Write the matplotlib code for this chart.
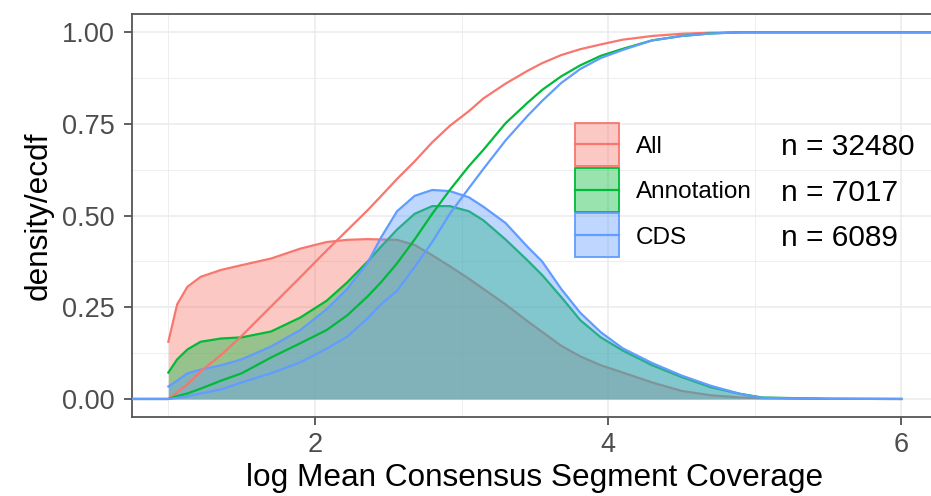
import matplotlib
matplotlib.use("Agg")
import matplotlib.pyplot as plt
from matplotlib.patches import Rectangle
import numpy as np

plt.rcParams["font.family"] = ["Liberation Sans", "DejaVu Sans"]

# log mean consensus segment coverage (x grid)
x = [1.00, 1.06, 1.13, 1.22, 1.36, 1.50, 1.70, 1.90, 2.08, 2.22, 2.36, 2.45,
     2.56, 2.68, 2.80, 2.92, 3.05, 3.15, 3.30, 3.45, 3.55, 3.68, 3.81, 3.95,
     4.10, 4.30, 4.50, 4.70, 4.90, 5.05, 5.50, 6.00]

dens_all = [.156, .258, .306, .333, .352, .365, .383, .410, .428, .434, .436, .435,
            .434, .420, .392, .362, .328, .300, .258, .212, .183, .145, .116, .092,
            .072, .045, .022, .010, .004, .002, .0005, 0]
dens_annotation = [.072, .108, .135, .156, .165, .168, .184, .222, .268, .318, .375, .415,
                   .462, .505, .526, .526, .512, .487, .435, .378, .338, .278, .215, .168,
                   .132, .092, .060, .032, .014, .004, .0005, 0]
dens_cds = [.034, .050, .070, .080, .092, .108, .143, .188, .245, .300, .372, .440,
            .512, .554, .570, .567, .550, .524, .480, .415, .375, .300, .235, .182,
            .138, .098, .064, .036, .014, .003, .0005, 0]

ecdf_all = [0, .018, .040, .075, .120, .172, .252, .332, .405, .460, .515, .553,
            .600, .648, .700, .745, .785, .820, .860, .895, .916, .938, .954, .967,
            .980, .990, .996, .999, 1, 1, 1, 1]
ecdf_annotation = [0, .008, .015, .028, .050, .070, .113, .152, .188, .228, .280, .318,
                   .370, .435, .505, .570, .635, .680, .752, .808, .843, .880, .910, .936,
                   .955, .978, .990, .997, 1, 1, 1, 1]
ecdf_cds = [0, .003, .007, .015, .026, .045, .070, .100, .137, .170, .220, .258,
            .295, .360, .428, .505, .575, .628, .705, .772, .813, .862, .900, .930,
            .952, .978, .990, .997, 1, 1, 1, 1]

groups = ["All", "Annotation", "CDS"]
counts = [32480, 7017, 6089]
colors = ["#F8766D", "#00BA38", "#619CFF"]

densities = [dens_all, dens_annotation, dens_cds]
ecdfs = [ecdf_all, ecdf_annotation, ecdf_cds]

W, H = 931, 496
fig = plt.figure(figsize=(W / 100, H / 100), dpi=100)
ax = fig.add_axes([131.7 / W, 1 - 417.3 / H, (938 - 131.7) / W, (417.3 - 14) / H])

xlim = (0.75, 6.25)
ax.set_xlim(*xlim)
ax.set_ylim(-0.05, 1.05)

# theme_bw-ish
ax.set_xticks([2, 4, 6])
ax.set_xticks([1, 3, 5], minor=True)
ax.set_yticks([0, 0.25, 0.5, 0.75, 1.0])
ax.set_yticks([0.125, 0.375, 0.625, 0.875], minor=True)
ax.set_yticklabels([f"{v:.2f}" for v in [0, 0.25, 0.5, 0.75, 1.0]])
ax.grid(which="major", color="#EBEBEB", lw=1.1)
ax.grid(which="minor", color="#EBEBEB", lw=0.6)
ax.set_axisbelow(True)
for s in ax.spines.values():
    s.set_color("#555555")
    s.set_linewidth(1.3)
ax.tick_params(which="major", length=5.5, width=1.2, color="#444444",
               labelsize=19.5, labelcolor="#4D4D4D")
ax.tick_params(axis="y", pad=7)
ax.tick_params(axis="x", pad=5)
ax.tick_params(which="minor", length=0)

lw = 1.6
xs = np.array(x)
for i, (dens, col) in enumerate(zip(densities, colors)):
    ax.fill_between(xs, 0, dens, color=col, alpha=0.4, lw=0, zorder=2 + 2 * i)
    ax.plot(xs, dens, color=col, lw=lw, zorder=3 + 2 * i, solid_joinstyle="round")

for i, (ec, col) in enumerate(zip(ecdfs, colors)):
    ex = [xlim[0]] + x + [xlim[1]]
    ey = [0] + ec + [1]
    ax.plot(ex, ey, color=col, lw=lw, zorder=10 + i, solid_joinstyle="round")

ax.set_xlabel("log Mean Consensus Segment Coverage", fontsize=22.7, labelpad=4)
ax.set_ylabel("density/ecdf", fontsize=22.7, labelpad=6)

# legend drawn by hand on a pixel overlay
lax = fig.add_axes([0, 0, 1, 1])
lax.set_xlim(0, W)
lax.set_ylim(H, 0)
lax.axis("off")
key_x, key_w, key_h = 575, 44, 43.5
key_tops = [122.7, 168.2, 213.4]
for i, (g, n, col) in enumerate(zip(groups, counts, colors)):
    top = key_tops[i]
    cy = top + key_h / 2
    lax.add_patch(Rectangle((key_x, top), key_w, key_h,
                            facecolor=matplotlib.colors.to_rgba(col, 0.4),
                            edgecolor=col, lw=1.3))
    lax.plot([key_x, key_x + key_w], [cy, cy], color=col, lw=lw)
    lax.text(636, cy, g, fontsize=17.5, va="center_baseline", ha="left")
    lax.text(781, cy, f"n = {n}", fontsize=21.5, va="center_baseline", ha="left")

fig.savefig("out.png", dpi=100)
